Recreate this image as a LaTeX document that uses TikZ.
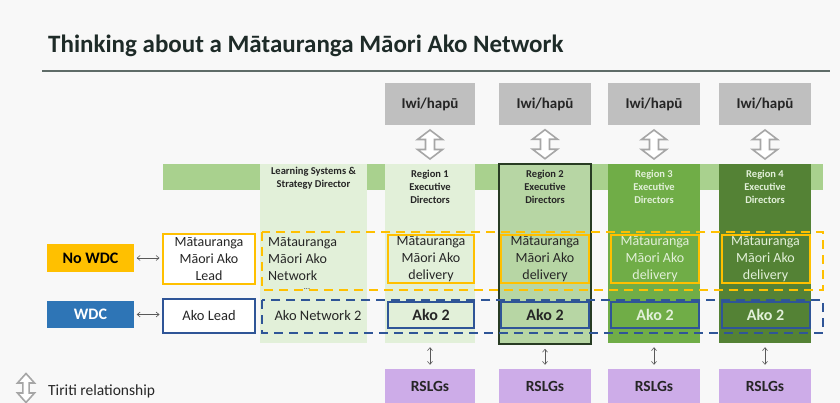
\documentclass[tikz,border=0pt]{standalone}
\usepackage{fontspec}
\setmainfont{Carlito}
\usetikzlibrary{calc,arrows.meta}
\definecolor{bg}{RGB}{248,248,248}
\definecolor{titlecol}{RGB}{30,43,40}
\definecolor{rulecol}{RGB}{95,108,104}
\definecolor{iwigray}{RGB}{191,191,191}
\definecolor{bandgreen}{RGB}{169,209,142}
\definecolor{lightgreen}{RGB}{226,240,217}
\definecolor{midlight}{RGB}{183,214,164}
\definecolor{darkborder}{RGB}{40,60,35}
\definecolor{green3}{RGB}{112,173,71}
\definecolor{green4}{RGB}{84,130,53}
\definecolor{orangeY}{RGB}{255,192,0}
\definecolor{wdcblue}{RGB}{46,117,182}
\definecolor{dashblue}{RGB}{47,85,151}
\definecolor{lilac}{RGB}{205,172,232}
\definecolor{txtdark}{RGB}{38,38,38}
\definecolor{txtlight}{RGB}{226,240,217}
\definecolor{arrgray}{RGB}{166,166,166}
\definecolor{smallarr}{RGB}{89,89,89}
\tikzset{
  box/.style={rectangle, inner sep=0pt, align=center, text=txtdark},
  iwi/.style={box, fill=iwigray, minimum height=42pt, font=\fontsize{15}{17}\selectfont\bfseries},
  colbox/.style={box, minimum height=179pt},
  header/.style={align=center, inner sep=0pt, font=\fontsize{10.5}{13}\selectfont\bfseries, text=txtdark},
  delivery/.style={box, draw=orangeY, line width=2pt, minimum height=48pt, font=\fontsize{14}{16.8}\selectfont},
  akotwo/.style={box, draw=dashblue, line width=2pt, minimum height=26pt, font=\fontsize{16}{18}\selectfont\bfseries},
  rslg/.style={box, fill=lilac, minimum height=34pt, font=\fontsize{15.5}{17}\selectfont\bfseries},
  smallarrow/.style={draw=smallarr, line width=0.6pt, {Straight Barb[length=3pt,width=5pt]}-{Straight Barb[length=3pt,width=5pt]}, shorten <=4pt, shorten >=4pt},
  sidearrow/.style={draw=smallarr, line width=0.6pt, {Straight Barb[length=3pt,width=5pt]}-{Straight Barb[length=3pt,width=5pt]}, shorten <=2.5pt, shorten >=2.5pt},
  dashrect/.style={line width=2.5pt, dash pattern=on 9pt off 6pt},
  tiriti/.pic={
    \draw[arrgray, line width=1.6pt, fill=white, line join=miter]
      (0,-14.5) -- (12.5,-5) -- (4.5,-5) -- (4.5,5) -- (12.5,5) -- (0,14.5)
      -- (-12.5,5) -- (-4.5,5) -- (-4.5,-5) -- (-12.5,-5) -- cycle;
  }
}
\begin{document}
\begin{tikzpicture}[x=1pt,y=-1pt]
\fill[bg] (0,0) rectangle (840,403);
\useasboundingbox (0,0) rectangle (840,403);

% title
\node[anchor=base west, inner sep=0pt, text=titlecol, font=\fontsize{25}{28}\selectfont\bfseries] (title) at (48,53) {Thinking about a Mātauranga Māori Ako Network};
\draw[rulecol, line width=1.5pt] (42,71) -- (830,71);

% iwi boxes
\node[iwi, minimum width=90pt] (iw1) at (430,104) {Iwi/hapū};
\node[iwi, minimum width=92pt] (iw2) at (545,104) {Iwi/hapū};
\node[iwi, minimum width=92pt] (iw3) at (654,104) {Iwi/hapū};
\node[iwi, minimum width=92pt] (iw4) at (765,104) {Iwi/hapū};

% band
\node[box, fill=bandgreen, minimum width=660pt, minimum height=26pt] (band) at (493,177) {};

% columns
\node[colbox, fill=lightgreen, minimum width=107pt] (col0) at (313.5,253.5) {};
\node[colbox, fill=lightgreen, minimum width=90pt] (col1) at (430,253.5) {};
\node[colbox, fill=midlight, draw=darkborder, line width=1.5pt, minimum width=92pt, minimum height=180pt] (col2) at (545,254) {};
\node[colbox, fill=green3, minimum width=92pt] (col3) at (654,253.5) {};
\node[colbox, fill=green4, minimum width=92pt] (col4) at (765,253.5) {};

% headers
\node[header] (h0) at (313.5,178.5) {Learning Systems \&\\Strategy Director};
\node[header] (h1) at (430,187) {Region 1\\Executive\\Directors};
\node[header] (h2) at (545,187) {Region 2\\Executive\\Directors};
\node[header, text=txtlight] (h3) at (654,187) {Region 3\\Executive\\Directors};
\node[header, text=txtlight] (h4) at (765,187) {Region 4\\Executive\\Directors};

% hollow Tiriti arrows
\foreach \i in {1,2,3,4}{
  \path ($(iw\i.south)!0.5!(col\i.north)$) pic {tiriti};
}

% left legend boxes
\node[box, fill=orangeY, minimum width=87pt, minimum height=28pt, font=\fontsize{16}{18}\selectfont\bfseries, text=black] (nowdc) at (90.5,258) {No WDC};
\node[box, fill=wdcblue, minimum width=87pt, minimum height=27pt, font=\fontsize{16}{18}\selectfont\bfseries, text=white] (wdc) at (90.5,314.5) {WDC};

\node[box, fill=white, draw=orangeY, line width=2pt, minimum width=92pt, minimum height=50pt, font=\fontsize{14}{16.8}\selectfont] (mlead) at (209,259) {Mātauranga\\Māori Ako\\Lead};
\node[box, fill=white, draw=dashblue, line width=2pt, minimum width=92pt, minimum height=34pt, font=\fontsize{14.5}{16}\selectfont] (alead) at (209,316) {Ako Lead};

\draw[sidearrow] (nowdc.east) -- (nowdc.east -| mlead.west);
\draw[sidearrow] (wdc.east) -- (wdc.east -| alead.west);

% network column texts
\node[anchor=west, align=left, inner sep=0pt, text=txtdark, font=\fontsize{14}{16.8}\selectfont] (net) at (268,259) {Mātauranga\\Māori Ako\\Network};
\node[inner sep=0pt, text=txtdark, font=\fontsize{8}{8}\selectfont] (dots) at (307,289) {...};
\node[inner sep=0pt, text=txtdark, font=\fontsize{14.5}{16}\selectfont] (net2) at (318,316) {Ako Network 2};

% delivery boxes
\node[delivery, minimum width=86pt] (dl1) at (431,259) {Mātauranga\\Māori Ako\\delivery};
\node[delivery, minimum width=88pt] (dl2) at (545,259) {Mātauranga\\Māori Ako\\delivery};
\node[delivery, minimum width=88pt, text=txtlight] (dl3) at (655,259) {Mātauranga\\Māori Ako\\delivery};
\node[delivery, minimum width=88pt, text=txtlight] (dl4) at (765.5,259) {Mātauranga\\Māori Ako\\delivery};

% Ako 2 boxes
\node[akotwo, minimum width=86pt] (ak1) at (431,315) {Ako 2};
\node[akotwo, minimum width=88pt] (ak2) at (545,315) {Ako 2};
\node[akotwo, minimum width=88pt, text=txtlight] (ak3) at (655,315) {Ako 2};
\node[akotwo, minimum width=88pt, text=txtlight] (ak4) at (765.5,315) {Ako 2};

% dashed groupings
\coordinate (oy1) at (262,232);
\coordinate (oy2) at (823,290);
\coordinate (by1) at (262,300);
\coordinate (by2) at (823,333);
\draw[dashrect, orangeY] (oy1) rectangle (oy2);
\draw[dashrect, dashblue] (by1) rectangle (by2);

% RSLGs
\node[rslg, minimum width=90pt] (rs1) at (430,386) {RSLGs};
\node[rslg, minimum width=92pt] (rs2) at (545,386) {RSLGs};
\node[rslg, minimum width=92pt] (rs3) at (654,386) {RSLGs};
\node[rslg, minimum width=92pt] (rs4) at (765,386) {RSLGs};

\foreach \i in {1,2,3,4}{
  \draw[smallarrow] (col\i.south) -- (rs\i.north);
}

% legend
\path (26,388) pic[xscale=0.68] {tiriti};
\node[anchor=west, inner sep=0pt, text=txtdark, font=\fontsize{15.5}{17}\selectfont] (legend) at (48,391) {Tiriti relationship};
\end{tikzpicture}
\end{document}
